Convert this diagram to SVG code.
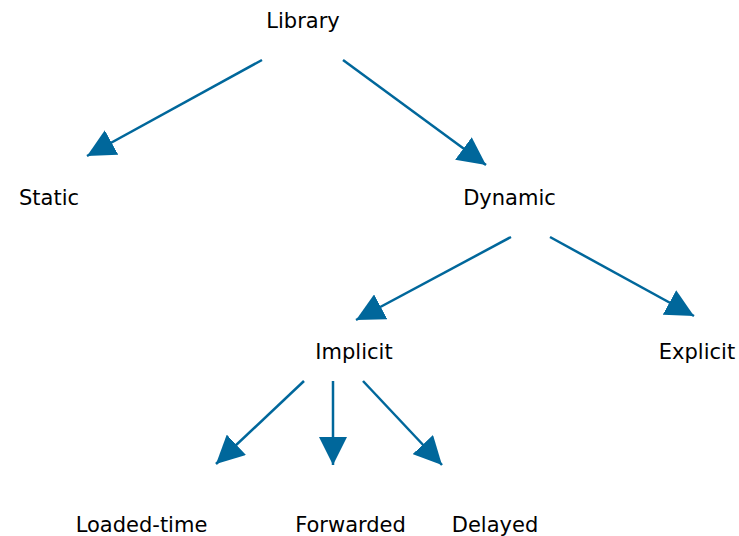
<svg xmlns="http://www.w3.org/2000/svg" width="739" height="536" viewBox="0 0 739 536">
  <style>
    .lbl { font-family: "DejaVu Sans", Verdana, sans-serif; font-size: 21px; fill: #000; text-anchor: middle; }
    .edge { stroke: #00679b; stroke-width: 2.5; fill: none; marker-end: url(#head); }
  </style>
  <defs>
    <marker id="head" markerUnits="userSpaceOnUse" markerWidth="28" markerHeight="28" viewBox="0 0 26 26" refX="26" refY="13" orient="auto">
      <path d="M0,0 L26,13 L0,26 Z" fill="#00679b"/>
    </marker>
  </defs>
  <rect width="739" height="536" fill="#fff"/>

  <g id="connectors">
    <line class="edge" x1="262" y1="60" x2="87" y2="156"/>
    <line class="edge" x1="343" y1="60" x2="486" y2="165"/>
    <line class="edge" x1="511" y1="237" x2="356" y2="320"/>
    <line class="edge" x1="550" y1="237" x2="694" y2="316"/>
    <line class="edge" x1="304" y1="381" x2="216" y2="464"/>
    <line class="edge" x1="333" y1="381" x2="333" y2="465"/>
    <line class="edge" x1="363" y1="381" x2="442" y2="465"/>
  </g>

  <g id="library"><text class="lbl" x="303" y="28">Library</text></g>
  <g id="static"><text class="lbl" x="49" y="205">Static</text></g>
  <g id="dynamic"><text class="lbl" x="509.5" y="205">Dynamic</text></g>
  <g id="implicit"><text class="lbl" x="354" y="359">Implicit</text></g>
  <g id="explicit"><text class="lbl" x="697" y="359">Explicit</text></g>
  <g id="loaded-time"><text class="lbl" x="141.5" y="532">Loaded-time</text></g>
  <g id="forwarded"><text class="lbl" x="350.5" y="532">Forwarded</text></g>
  <g id="delayed"><text class="lbl" x="495" y="532">Delayed</text></g>
</svg>
